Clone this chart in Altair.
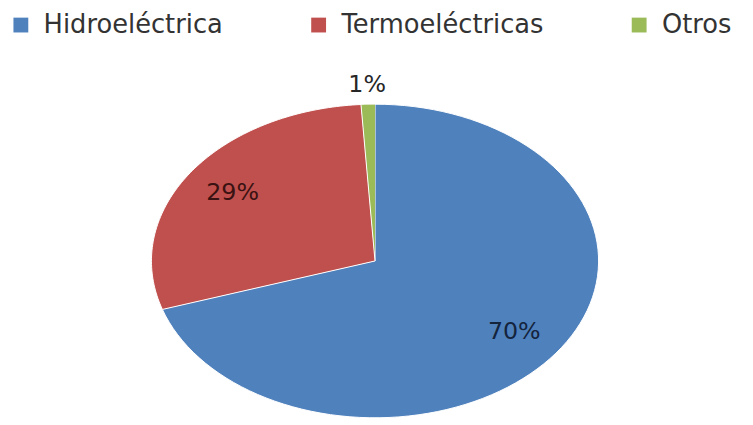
import altair as alt
import pandas as pd

categories = ["Hidroeléctrica", "Termoeléctricas", "Otros"]
values = [70, 29, 1]
colors = ["#4F81BD", "#C0504D", "#9BBB59"]
label_colors = ["#14243d", "#3a1212", "#262626"]

df = pd.DataFrame({"cat": categories, "value": values})

base = (
    alt.Chart(df)
    .transform_window(cum="sum(value)")
    .transform_joinaggregate(total="sum(value)")
    .transform_calculate(
        start="(datum.cum - datum.value) / datum.total",
        end="datum.cum / datum.total",
        pts="sequence(-1, 101)",
    )
    .transform_flatten(["pts"], as_=["i"])
)

xs = alt.Scale(domain=[-1, 1], nice=False, zero=False)
ys = alt.Scale(domain=[-1, 1], nice=False, zero=False)

color_scale = alt.Scale(domain=categories, range=colors)

pie = (
    base.transform_calculate(
        th="2 * PI * (datum.start + (datum.end - datum.start) * max(datum.i, 0) / 100)"
    )
    .transform_calculate(
        px="datum.i < 0 ? 0 : sin(datum.th)",
        py="datum.i < 0 ? 0 : cos(datum.th)",
    )
    .mark_line(filled=True, stroke="white", strokeWidth=1, interpolate="linear")
    .encode(
        x=alt.X("px:Q", scale=xs, axis=None),
        y=alt.Y("py:Q", scale=ys, axis=None),
        fill=alt.Fill(
            "cat:N",
            scale=color_scale,
            sort=categories,
            legend=alt.Legend(
                title=None,
                orient="none",
                direction="horizontal",
                legendX=-145,
                legendY=-93,
                symbolType="square",
                symbolSize=225,
                symbolStrokeWidth=0,
                labelFont="DejaVu Sans",
                labelFontSize=26,
                labelColor="#333333",
                labelOffset=10,
                columnPadding=83,
                labelLimit=400,
            ),
        ),
        detail="cat:N",
        order=alt.Order("i:Q"),
    )
)

labels = (
    base.transform_filter("datum.i == -1")
    .transform_calculate(
        mid="PI * (datum.start + datum.end)",
        r="datum.value < 5 ? 1.12 : 0.77",
        txt="format(datum.value / datum.total, '.0%')",
    )
    .transform_calculate(
        lx="datum.r * sin(datum.mid)",
        ly="datum.r * cos(datum.mid)",
    )
    .mark_text(font="DejaVu Sans", fontSize=24, align="center", baseline="middle")
    .encode(
        x=alt.X("lx:Q", scale=xs, axis=None),
        y=alt.Y("ly:Q", scale=ys, axis=None),
        text="txt:N",
        color=alt.Color(
            "cat:N",
            scale=alt.Scale(domain=categories, range=label_colors),
            legend=None,
        ),
    )
)

chart = (
    alt.layer(pie, labels)
    .resolve_scale(color="independent")
    .properties(
        width=452,
        height=317,
        autosize=alt.AutoSizeParams(type="none"),
        padding={"left": 145, "top": 95, "right": 148, "bottom": 0},
        background="white",
    )
    .configure_view(stroke=None)
)

chart.save("out.html", embed_options={"renderer": "svg", "actions": False})
